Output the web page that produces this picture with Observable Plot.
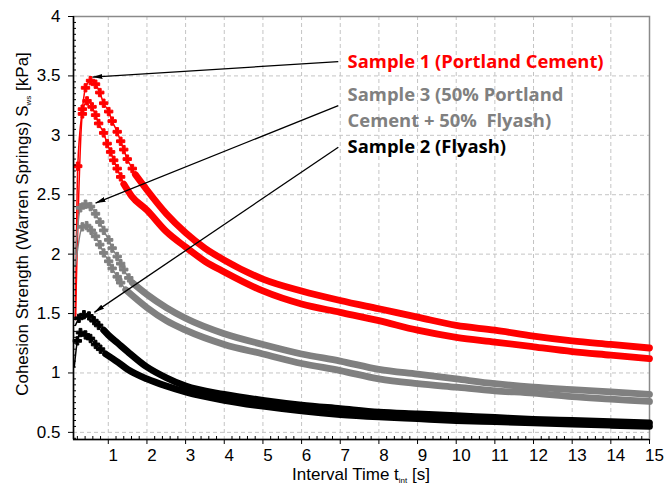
<!DOCTYPE html>
<html>
<head>
<meta charset="utf-8">
<script src="https://cdn.jsdelivr.net/npm/d3@7"></script>
<script src="https://cdn.jsdelivr.net/npm/@observablehq/plot@0.6"></script>
<style>
  body { margin: 0; background: #fff; }
  #chart svg { display: block; }
</style>
</head>
<body>
<div id="chart"></div>
<script>
// ---- Data ----
const s1UpperT = [0.15,0.21,0.33,0.41,0.54,0.67,0.78,0.88,1.01,1.10,1.23,1.32,1.40,1.49,1.62,1.70,2.0,2.5,3,3.5,4,5,6,7,8,9,10,11,12,13,14,15];
const s1UpperV = [1.45,2.74,3.22,3.40,3.46,3.43,3.36,3.27,3.20,3.12,3.03,2.95,2.88,2.80,2.72,2.67,2.54,2.34,2.18,2.05,1.95,1.79,1.69,1.61,1.54,1.47,1.40,1.36,1.31,1.27,1.24,1.21];
const s1LowerT = [0.15,0.33,0.45,0.58,0.67,0.75,0.88,0.97,1.06,1.14,1.23,1.32,1.40,1.6,2.0,2.5,3,3.5,4,5,6,7,8,9,10,11,12,13,14,15];
const s1LowerV = [1.45,3.18,3.29,3.24,3.17,3.10,3.02,2.93,2.86,2.79,2.72,2.65,2.59,2.49,2.37,2.19,2.06,1.94,1.85,1.69,1.58,1.51,1.44,1.36,1.30,1.26,1.22,1.18,1.15,1.12];
const s3UpperT = [0.15,0.28,0.41,0.54,0.67,0.78,0.88,1.01,1.10,1.23,1.32,1.40,1.53,1.62,2.0,2.5,3,4,5,6,7,8,9,10,11,12,13,14,15];
const s3UpperV = [2.0,2.39,2.42,2.40,2.34,2.27,2.20,2.12,2.05,1.98,1.92,1.87,1.80,1.76,1.66,1.55,1.46,1.33,1.24,1.16,1.10,1.03,0.99,0.95,0.91,0.88,0.86,0.84,0.82];
const s3LowerT = [0.15,0.33,0.44,0.56,0.67,0.78,0.88,1.01,1.10,1.23,1.32,1.45,2.0,2.5,3,4,5,6,7,8,9,10,11,12,13,14,15];
const s3LowerV = [1.90,2.23,2.24,2.20,2.15,2.08,2.01,1.94,1.88,1.81,1.76,1.70,1.55,1.44,1.36,1.24,1.16,1.08,1.02,0.95,0.91,0.88,0.85,0.83,0.80,0.78,0.76];
const s2UpperT = [0.15,0.24,0.37,0.50,0.63,0.75,0.88,1.0,1.25,1.5,2,2.5,3,4,5,6,7,8,9,10,11,12,13,14,15];
const s2UpperV = [1.40,1.46,1.49,1.48,1.44,1.40,1.36,1.32,1.25,1.18,1.05,0.96,0.89,0.82,0.77,0.73,0.70,0.67,0.655,0.64,0.625,0.61,0.60,0.59,0.58];
const s2LowerT = [0.12,0.2,0.28,0.41,0.54,0.67,0.80,0.93,1.25,1.5,2,2.5,3,4,5,6,7,8,9,10,11,12,13,14,15];
const s2LowerV = [1.05,1.27,1.34,1.32,1.29,1.24,1.20,1.16,1.09,1.03,0.95,0.89,0.84,0.77,0.72,0.68,0.65,0.63,0.615,0.60,0.59,0.58,0.57,0.56,0.55];

const xTicks = [1,2,3,4,5,6,7,8,9,10,11,12,13,14,15];
const yTicks = [0.5,1,1.5,2,2.5,3,3.5,4];
const annotationLines = ["Sample 1 (Portland Cement)", "Sample 3 (50% Portland", "Cement + 50%  Flyash)", "Sample 2 (Flyash)"];

// ---- Layout / style ----
const W = 667, H = 486;
const mL = 73, mR = 18, mT = 16, mB = 47;
const xDomain = [0.1, 15], yDomain = [0.44, 4];
const xPerPx = (xDomain[1] - xDomain[0]) / (W - mL - mR);
const yPerPx = (yDomain[1] - yDomain[0]) / (H - mT - mB);
const RED = "#ff0000", GRAY = "#808080", BLACK = "#000000";
const FONT = "Arial, 'Liberation Sans', sans-serif";

const series = [
  {t: s1UpperT, v: s1UpperV, color: RED, bandFrom: 1.70},
  {t: s1LowerT, v: s1LowerV, color: RED, bandFrom: 1.40},
  {t: s3UpperT, v: s3UpperV, color: GRAY, bandFrom: 1.62},
  {t: s3LowerT, v: s3LowerV, color: GRAY, bandFrom: 1.45},
  {t: s2UpperT, v: s2UpperV, color: BLACK, bandFrom: 0.88},
  {t: s2LowerT, v: s2LowerV, color: BLACK, bandFrom: 0.93}
];

const xMinor = d3.range(0.2, 15, 0.2).filter(d => Math.abs(d - Math.round(d)) > 1e-6);
const yMinor = d3.range(0.45, 4, 0.05).filter(d => Math.abs(d * 2 - Math.round(d * 2)) > 1e-6);

const marks = [];
// grid
marks.push(Plot.ruleX(xTicks.slice(0, -1), {stroke: "#c4c4c4", strokeDasharray: "4,3", strokeWidth: 1}));
marks.push(Plot.ruleY(yTicks.slice(0, -1), {stroke: "#c4c4c4", strokeDasharray: "4,3", strokeWidth: 1}));
marks.push(Plot.frame({stroke: "#8a8a8a", strokeWidth: 1.5}));

// series
for (const s of series) {
  const rows = s.t.map((t, i) => ({t, v: s.v[i]}));
  marks.push(Plot.line(rows, {x: "t", y: "v", stroke: s.color, strokeWidth: 1.5, curve: "monotone-x"}));
  const band = rows.filter(r => r.t >= s.bandFrom - 1e-9);
  marks.push(Plot.line(band, {x: "t", y: "v", stroke: s.color, strokeWidth: 6.8, curve: "monotone-x", strokeLinecap: "round"}));
  const beads = rows.slice(1).filter(r => r.t < s.bandFrom - 1e-9);
  marks.push(Plot.dot(beads, {x: "t", y: "v", symbol: "cross", r: 3.5, fill: s.color, stroke: s.color, strokeWidth: 1}));
}

// axes lines & ticks
marks.push(Plot.ruleX([xDomain[0]], {stroke: "black", strokeWidth: 1.5}));
marks.push(Plot.ruleY([yDomain[0]], {stroke: "black", strokeWidth: 1.5}));
marks.push(Plot.ruleX(xTicks, {y1: yDomain[0], y2: yDomain[0] - 5 * yPerPx, stroke: "black"}));
marks.push(Plot.ruleX(xMinor, {y1: yDomain[0], y2: yDomain[0] + 3 * yPerPx, stroke: "black"}));
marks.push(Plot.ruleY(yTicks, {x1: xDomain[0], x2: xDomain[0] - 5 * xPerPx, stroke: "black"}));
marks.push(Plot.ruleY(yMinor, {x1: xDomain[0], x2: xDomain[0] + 3 * xPerPx, stroke: "black"}));
marks.push(Plot.axisX({ticks: xTicks, tickSize: 0, tickPadding: 9, dx: 5, label: null, tickFormat: d => String(d), fontSize: 17, fontFamily: FONT}));
marks.push(Plot.axisY({ticks: yTicks, tickSize: 0, tickPadding: 13, label: null, tickFormat: d => String(d), fontSize: 17, fontFamily: FONT}));

// annotations
const annX = 7.19;
const annY = [3.62, 3.34, 3.12, 2.90];
const annColor = [RED, GRAY, GRAY, BLACK];
annotationLines.forEach((txt, i) => {
  marks.push(Plot.text([txt], {x: annX, y: annY[i], text: d => d, fill: annColor[i], textAnchor: "start",
    fontWeight: "bold", fontSize: 18.4, fontFamily: "'Open Sans', Lato, sans-serif"}));
});
const arrows = [
  {x1: 6.95, y1: 3.62, x2: 0.59, y2: 3.49},
  {x1: 6.95, y1: 3.25, x2: 0.67, y2: 2.43},
  {x1: 6.95, y1: 2.90, x2: 0.64, y2: 1.51}
];
marks.push(Plot.link(arrows, {x1: "x1", y1: "y1", x2: "x2", y2: "y2", stroke: "black", strokeWidth: 1.3}));

const chart = Plot.plot({
  width: W, height: H,
  marginLeft: mL, marginRight: mR, marginTop: mT, marginBottom: mB,
  x: {domain: xDomain},
  y: {domain: yDomain},
  style: {fontFamily: FONT, fontSize: "17px", color: "black", background: "white"},
  marks
});
document.getElementById("chart").appendChild(chart);

// filled arrowheads
const svg = d3.select(chart);
const defs = svg.insert("defs", ":first-child");
defs.append("marker").attr("id", "ahead").attr("viewBox", "0 0 10 5")
  .attr("refX", 10).attr("refY", 2.5).attr("markerWidth", 10).attr("markerHeight", 5)
  .attr("markerUnits", "userSpaceOnUse").attr("orient", "auto")
  .append("path").attr("d", "M0,0L10,2.5L0,5Z").attr("fill", "black");
svg.selectAll('g[aria-label="link"] path, g[aria-label="link"] line').attr("marker-end", "url(#ahead)");

// axis titles with subscripts
const xl = svg.append("text").attr("x", 361).attr("y", 480).attr("text-anchor", "middle")
  .attr("font-size", 17).attr("font-family", FONT).attr("fill", "black");
xl.append("tspan").text("Interval Time t");
xl.append("tspan").attr("font-size", 8).attr("dy", 3).text("int");
xl.append("tspan").attr("dy", -3).text(" [s]");

const yl = svg.append("text").attr("transform", "translate(28,224) rotate(-90)").attr("text-anchor", "middle")
  .attr("font-size", 17).attr("font-family", FONT).attr("fill", "black");
yl.append("tspan").text("Cohesion Strength (Warren Springs) S");
yl.append("tspan").attr("font-size", 8).attr("dy", 3).text("ws");
yl.append("tspan").attr("dy", -3).text(" [kPa]");
</script>
</body>
</html>
